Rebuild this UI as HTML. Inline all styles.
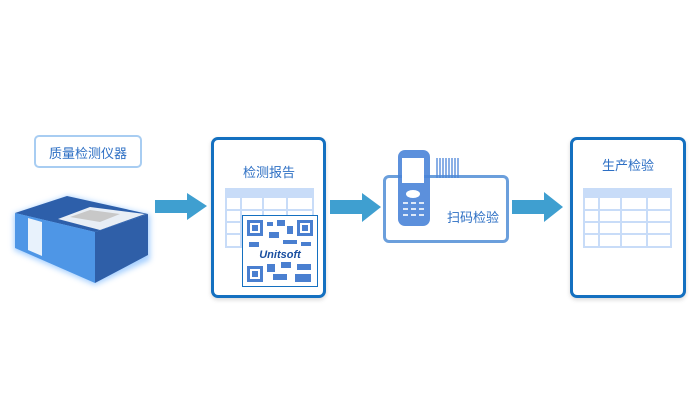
<!DOCTYPE html>
<html><head><meta charset="utf-8"><style>
body{margin:0;width:700px;height:420px;background:#fff;position:relative;overflow:hidden;font-family:"Liberation Sans","Noto Sans CJK SC",sans-serif}
.a{position:absolute}
.box{position:absolute;border:3px solid #1470c0;border-radius:7px;background:#fff;box-sizing:border-box;box-shadow:0 2px 4px rgba(0,0,0,.15)}
.t{position:absolute;font-size:13px;color:#2d6fc4;white-space:nowrap}
</style></head><body>
<div class="a" style="left:34px;top:135px;width:108px;height:33px;border:2px solid #a8cdf2;border-radius:5px;box-sizing:border-box"></div>
<div class="t" style="left:49px;top:143px">质量检测仪器</div>
<svg class="a" style="left:0;top:0" width="700" height="420">
<defs><filter id="g"><feGaussianBlur stdDeviation="3"/></filter></defs>
<g filter="url(#g)" opacity=".6"><polygon points="14,214 68,196 150,215 150,260 95,285 14,250" fill="#6ab0ff"/></g>
<polygon points="15,213 67,196 148,214 95,232" fill="#2d5faa"/>
<polygon points="58,219 90,207 145,214 100,230" fill="#e8eef5"/>
<polygon points="70,217 90,210 120,214 100,222" fill="#c8c8c8"/>
<polygon points="15,213 95,232 95,283 15,248" fill="#4e96e6"/>
<polygon points="28,218 42,222 42,256 28,250" fill="#e8f2fc"/>
<polygon points="95,232 148,214 148,255 95,283" fill="#2f5fa8"/>
<g fill="#3f9fd0">
<polygon points="155,200 187,200 187,193 207,206 187,220 187,213 155,213"/>
<polygon points="330,200 362,200 362,193 381,207 362,222 362,214 330,214"/>
<polygon points="512,200 544,200 544,192 563,207 544,222 544,214 512,214"/>
</g>
</svg>
<div class="box" style="left:211px;top:137px;width:115px;height:161px"></div>
<div class="t" style="left:243px;top:162px">检测报告</div>
<svg class="a" style="left:225px;top:188px" width="89" height="60">
<rect width="89" height="9" fill="#c8dcf8"/>
<g stroke="#c8dcf8" stroke-width="2" fill="none"><rect x="1" y="9" width="87" height="50"/>
<path d="M0,22H89M0,34H89M0,46H89M16,9V60M38,9V60M62,9V60"/></g></svg>
<div class="a" style="left:242px;top:215px;width:76px;height:72px;background:#fff;border:1px solid #1470c0;box-sizing:border-box">
<svg width="74" height="70" style="display:block">
<g fill="#4a7fd0"><rect x="4" y="4" width="16" height="16"/><rect x="54" y="4" width="16" height="16"/><rect x="4" y="50" width="16" height="16"/>
<rect x="24" y="6" width="6" height="4"/><rect x="34" y="4" width="8" height="6"/><rect x="44" y="10" width="6" height="8"/><rect x="26" y="16" width="10" height="6"/>
<rect x="6" y="26" width="10" height="5"/><rect x="40" y="24" width="14" height="4"/><rect x="58" y="26" width="10" height="4"/>
<rect x="24" y="48" width="8" height="8"/><rect x="38" y="46" width="10" height="6"/><rect x="54" y="48" width="14" height="6"/><rect x="30" y="58" width="14" height="6"/><rect x="52" y="58" width="16" height="8"/></g>
<g fill="#fff"><rect x="7" y="7" width="10" height="10"/><rect x="57" y="7" width="10" height="10"/><rect x="7" y="53" width="10" height="10"/></g>
<g fill="#4a7fd0"><rect x="9" y="9" width="6" height="6"/><rect x="59" y="9" width="6" height="6"/><rect x="9" y="55" width="6" height="6"/></g>
<text x="37" y="42" text-anchor="middle" font-size="11" font-weight="bold" font-style="italic" fill="#1a4fa0" font-family="Liberation Sans">Unitsoft</text>
</svg></div>
<div class="a" style="left:383px;top:175px;width:126px;height:68px;border:3px solid #6b9fdc;border-radius:6px;box-sizing:border-box;background:#fff"></div>
<svg class="a" style="left:396px;top:148px" width="70" height="80">
<rect x="2" y="2" width="32" height="76" rx="7" fill="#4a84d8" opacity=".9"/>
<rect x="6" y="10" width="22" height="25" fill="#fff"/>
<ellipse cx="17" cy="46" rx="7" ry="4" fill="#fff"/>
<g fill="#dce8f8"><rect x="7" y="54" width="5" height="2"/><rect x="15" y="54" width="5" height="2"/><rect x="23" y="54" width="5" height="2"/><rect x="7" y="60" width="5" height="2"/><rect x="15" y="60" width="5" height="2"/><rect x="23" y="60" width="5" height="2"/><rect x="7" y="66" width="5" height="2"/><rect x="15" y="66" width="5" height="2"/><rect x="23" y="66" width="5" height="2"/></g>
<g stroke="#4a84d8" stroke-width="1.3"><path d="M41,10V30M44,10V30M47,10V30M50,10V30M53,10V30M56,10V30M59,10V30M62,10V30"/></g>
</svg>
<div class="t" style="left:447px;top:207px">扫码检验</div>
<div class="box" style="left:570px;top:137px;width:116px;height:161px"></div>
<div class="t" style="left:602px;top:155px">生产检验</div>
<svg class="a" style="left:583px;top:188px" width="89" height="60">
<rect width="89" height="9" fill="#c8dcf8"/>
<g stroke="#c8dcf8" stroke-width="2" fill="none"><rect x="1" y="9" width="87" height="50"/>
<path d="M0,22H89M0,34H89M0,46H89M16,9V60M38,9V60M64,9V60"/></g></svg>
</body></html>
